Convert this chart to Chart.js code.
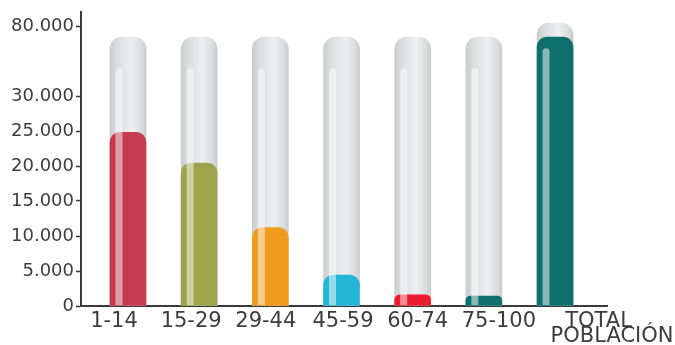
<!DOCTYPE html>
<html lang="es">
<head>
<meta charset="utf-8">
<title>Población por grupos de edad</title>
<script src="https://cdn.jsdelivr.net/npm/chart.js@4/dist/chart.umd.min.js"></script>
<style>
  html, body { margin: 0; padding: 0; background: #ffffff; }
  #wrap { width: 675px; height: 345px; position: relative; }
</style>
</head>
<body>
<div id="wrap"><canvas id="chart"></canvas></div>
<script>
// Age groups and population per group
const categories = ['1-14', '15-29', '29-44', '45-59', '60-74', '75-100', ['TOTAL', 'POBLACIÓN']];
const population = [24800, 20400, 11200, 4400, 1600, 1400, 72000];
// Height of the glass tube drawn behind each bar
const tubeCapacity = [72000, 72000, 72000, 72000, 72000, 72000, 82000];
const barColors = ['#c73b51', '#9ca54b', '#f09b1c', '#25b5d8', '#ec1b2e', '#0f6f6c', '#0f6f6c'];
// Y axis ticks (the axis is compressed above 30.000)
const yTicks = [0, 5000, 10000, 15000, 20000, 25000, 30000, 80000];

// Axis break: values above 30.000 take a fifth of the space
const BREAK_AT = 30000;
const SQUEEZE = 0.2;
const squash = v => (v == null || v <= BREAK_AT) ? v : BREAK_AT + (v - BREAK_AT) * SQUEEZE;
const expand = v => (v <= BREAK_AT) ? v : BREAK_AT + (v - BREAK_AT) / SQUEEZE;

class BrokenLinearScale extends Chart.LinearScale {
  getPixelForValue(value) { return super.getPixelForValue(squash(value)); }
  getValueForPixel(pixel) { return expand(super.getValueForPixel(pixel)); }
}
BrokenLinearScale.id = 'brokenLinear';
BrokenLinearScale.defaults = Chart.LinearScale.defaults;
Chart.register(BrokenLinearScale);

const fmt = v => String(v).replace(/\B(?=(\d{3})+(?!\d))/g, '.');
const TEXT = '#3d3d3d';
const TUBE_W = 36;

// Horizontal shading of each glass tube
function tubeFill(ctx) {
  const chart = ctx.chart;
  if (!chart.chartArea || ctx.type !== 'data') return '#dcdcde';
  const cx = chart.scales.x.getPixelForValue(ctx.dataIndex);
  const g = chart.ctx.createLinearGradient(cx - TUBE_W / 2, 0, cx + TUBE_W / 2, 0);
  g.addColorStop(0, '#cbccce');
  g.addColorStop(0.18, '#dadbdd');
  g.addColorStop(0.6, '#eeeff0');
  g.addColorStop(0.88, '#dadbdd');
  g.addColorStop(1, '#c9cacc');
  return g;
}

function roundTopRect(c, x, y, w, h, r) {
  c.beginPath();
  c.moveTo(x, y + h);
  c.lineTo(x, y + r);
  c.arc(x + r, y + r, r, Math.PI, 1.5 * Math.PI);
  c.lineTo(x + w - r, y);
  c.arc(x + w - r, y + r, r, 1.5 * Math.PI, 2 * Math.PI);
  c.lineTo(x + w, y + h);
  c.closePath();
}

// Light reflection stripe running down the left side of each tube
const glassShine = {
  id: 'glassShine',
  afterDatasetsDraw(chart) {
    const tubes = chart.getDatasetMeta(1).data;
    const fills = chart.getDatasetMeta(0).data;
    const c = chart.ctx;
    const bottom = chart.chartArea.bottom;
    c.save();
    tubes.forEach((tube, i) => {
      const top = Math.min(tube.y + 31, fills[i].y + 11);
      const x = tube.x - 12.5;
      c.fillStyle = 'rgba(255,255,255,0.5)';
      roundTopRect(c, x, top, 7, bottom - top - 1, 3.5);
      c.fill();
    });
    c.restore();
  }
};

// Category names under the axis, set as a running line of text
const labelShift = [-14, -8, -4.5, 1.5, 5, 15, [43.5, 57]];
const categoryLabels = {
  id: 'categoryLabels',
  afterDraw(chart) {
    const c = chart.ctx;
    const xs = chart.scales.x;
    const base = chart.chartArea.bottom + 21;
    c.save();
    c.font = '21px "DejaVu Sans"';
    c.fillStyle = TEXT;
    c.textAlign = 'center';
    c.textBaseline = 'alphabetic';
    categories.forEach((lab, i) => {
      const lines = Array.isArray(lab) ? lab : [lab];
      const shifts = Array.isArray(labelShift[i]) ? labelShift[i] : [labelShift[i]];
      lines.forEach((t, k) => {
        c.fillText(t, xs.getPixelForValue(i) + shifts[k], base + k * 15);
      });
    });
    c.restore();
  }
};

new Chart(document.getElementById('chart'), {
  type: 'bar',
  data: {
    datasets: [
      {
        label: 'Población',
        data: population.map((v, i) => ({ x: i, y: v })),
        backgroundColor: barColors,
        borderWidth: 0,
        borderRadius: 10,
        borderSkipped: 'bottom',
        barThickness: TUBE_W,
        grouped: false,
        order: 0
      },
      {
        label: 'Capacidad',
        data: tubeCapacity.map((v, i) => ({ x: i, y: v })),
        backgroundColor: tubeFill,
        borderWidth: 0,
        borderRadius: 12,
        borderSkipped: 'bottom',
        barThickness: TUBE_W,
        grouped: false,
        order: 1
      }
    ]
  },
  options: {
    responsive: true,
    maintainAspectRatio: false,
    animation: false,
    layout: { padding: { top: 12, right: 68, left: 0, bottom: 0 } },
    plugins: {
      legend: { display: false },
      tooltip: { enabled: false }
    },
    scales: {
      x: {
        type: 'linear',
        offset: false,
        min: -0.66,
        max: 6.73,
        grid: { display: false, offset: false },
        border: { display: true, color: '#3a3a3a', width: 2 },
        ticks: { display: false },
        afterFit(scale) { scale.height = 39; scale.paddingLeft = 0; scale.paddingRight = 0; }
      },
      y: {
        type: 'brokenLinear',
        min: 0,
        max: 42000,
        grid: {
          display: true,
          drawOnChartArea: false,
          drawTicks: true,
          tickLength: 5,
          tickWidth: 1.5,
          color: '#3a3a3a'
        },
        border: { display: true, color: '#3a3a3a', width: 2 },
        ticks: {
          padding: 2,
          color: TEXT,
          font: { family: 'DejaVu Sans', size: 18 },
          callback: v => fmt(v)
        },
        afterBuildTicks(scale) { scale.ticks = yTicks.map(v => ({ value: v })); },
        afterFit(scale) { scale.width = 81; scale.paddingTop = 0; scale.paddingBottom = 0; }
      }
    }
  },
  plugins: [glassShine, categoryLabels]
});
</script>
</body>
</html>
